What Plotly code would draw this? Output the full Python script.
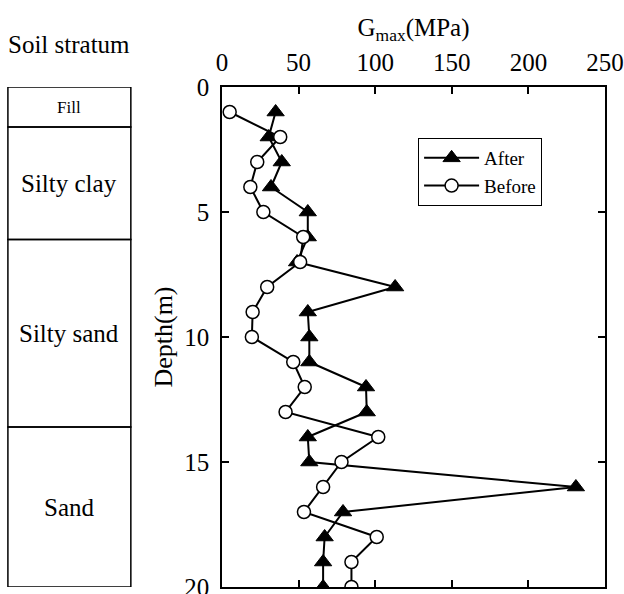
import plotly.graph_objects as go

depth = list(range(1, 21))
after = [35, 30.5, 39, 32, 56, 56, 49, 113, 56, 57, 57, 94, 94.5, 56, 57, 231, 79, 67, 66, 66]
before = [5, 38, 23, 18.5, 27, 53, 51, 29.5, 20, 19.5, 46.5, 54, 41.5, 102, 78, 66, 53.5, 101, 84.5, 84.5]

layers = ["Fill", "Silty clay", "Silty sand", "Sand"]
layer_top = [0, 1.6, 6.1, 13.6]
layer_bottom = [1.6, 6.1, 13.6, 20.0]
layer_font = [17, 25, 25, 25]

FONT = "Liberation Serif, Times New Roman, serif"

fig = go.Figure()
fig.add_trace(go.Scatter(
    x=after, y=depth, name="After", mode="lines+markers",
    line=dict(color="black", width=2),
    marker=dict(symbol="triangle-up", size=15, color="black", line=dict(color="black", width=1)),
))
fig.add_trace(go.Scatter(
    x=before, y=depth, name="Before", mode="lines+markers",
    line=dict(color="black", width=2),
    marker=dict(symbol="circle", size=13, color="white", line=dict(color="black", width=1.5)),
))

# Soil stratum column
col_x0, col_x1 = -0.559, -0.238
for name, t, b, fs in zip(layers, layer_top, layer_bottom, layer_font):
    fig.add_shape(type="rect", xref="paper", yref="y", x0=col_x0, x1=col_x1, y0=t, y1=b,
                  line=dict(color="black", width=1.5), fillcolor="rgba(0,0,0,0)", layer="above")
    fig.add_annotation(xref="paper", yref="y", x=(col_x0 + col_x1) / 2, y=(t + b) / 2,
                       xanchor="center", yanchor="middle",
                       text=name, showarrow=False, font=dict(family=FONT, size=fs, color="black"))

fig.add_annotation(xref="paper", yref="paper", x=(col_x0 + col_x1) / 2, y=1.084,
                   xanchor="center", yanchor="middle",
                   text="Soil stratum", showarrow=False, font=dict(family=FONT, size=25, color="black"))

fig.update_layout(
    width=624, height=594,
    margin=dict(l=222, r=19, t=87, b=7, autoexpand=False),
    paper_bgcolor="white", plot_bgcolor="white",
    font=dict(family=FONT, size=25, color="black"),
    showlegend=True,
    legend=dict(x=0.512, y=0.898, xanchor="left", yanchor="top",
                bordercolor="black", borderwidth=1, bgcolor="white",
                font=dict(family=FONT, size=19), tracegroupgap=0, itemwidth=55),
    xaxis=dict(range=[0, 250], side="top", tickvals=[0, 50, 100, 150, 200, 250],
               ticks="inside", ticklen=7, tickwidth=1.5, tickcolor="black",
               showline=True, linecolor="black", linewidth=1.5, mirror="ticks",
               showgrid=False, zeroline=False, ticklabelstandoff=4,
               ticklabeloverflow="allow", automargin=False,
               title=dict(text="G<sub>max</sub>(MPa)", standoff=6, font=dict(family=FONT, size=25)),
               tickfont=dict(family=FONT, size=25)),
    yaxis=dict(range=[20, 0], tickvals=[0, 5, 10, 15, 20],
               ticks="inside", ticklen=7, tickwidth=1.5, tickcolor="black",
               showline=True, linecolor="black", linewidth=1.5, mirror="ticks",
               showgrid=False, zeroline=False, ticklabelstandoff=6,
               ticklabeloverflow="allow", automargin=False,
               title=dict(text="Depth(m)", standoff=4, font=dict(family=FONT, size=26)),
               tickfont=dict(family=FONT, size=25)),
)

fig.write_html("out.html")
